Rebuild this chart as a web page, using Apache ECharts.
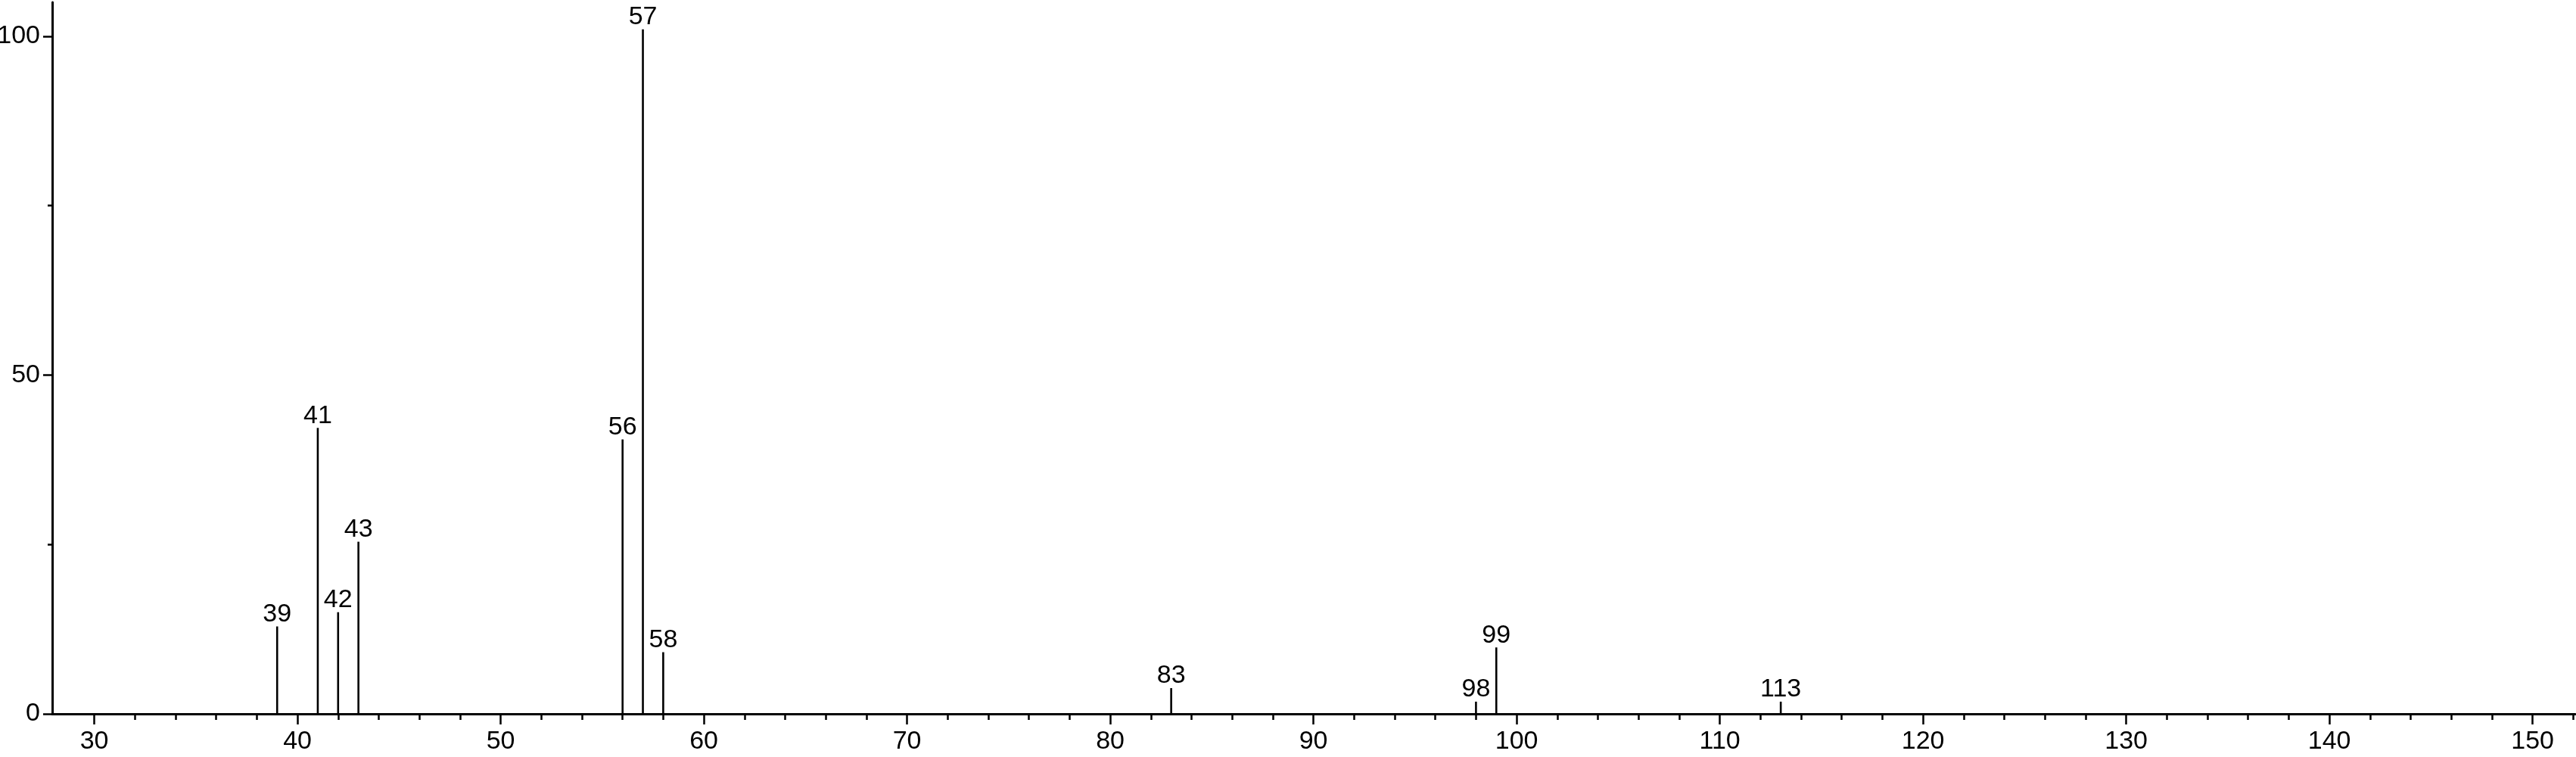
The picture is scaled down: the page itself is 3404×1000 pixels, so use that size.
<!DOCTYPE html>
<html>
<head>
<meta charset="utf-8">
<script src="https://cdn.jsdelivr.net/npm/echarts@6/dist/echarts.min.js"></script>
<style>
html,body{margin:0;padding:0;background:#fff;}
#c{width:3404px;height:1000px;}
</style>
</head>
<body>
<div id="c"></div>
<script>
// m/z values and relative intensities
var mz = [39, 41, 42, 43, 56, 57, 58, 83, 98, 99, 113];
var intensity = [12.9, 42.2, 15.0, 25.4, 40.5, 101.0, 9.1, 3.8, 1.8, 9.8, 1.8];
var xMajorTicks = [30, 40, 50, 60, 70, 80, 90, 100, 110, 120, 130, 140, 150];
var xMinorTicks = [32, 34, 36, 38, 42, 44, 46, 48, 52, 54, 56, 58, 62, 64, 66, 68,
  72, 74, 76, 78, 82, 84, 86, 88, 92, 94, 96, 98, 102, 104, 106, 108, 112, 114, 116, 118,
  122, 124, 126, 128, 132, 134, 136, 138, 142, 144, 146, 148, 152];
var yMajorTicks = [0, 50, 100];
var yMinorTicks = [25, 75];

var font = 'Liberation Sans, Arial, sans-serif';
var peaks = mz.map(function (m, i) { return [m, intensity[i]]; });

var chart = echarts.init(document.getElementById('c'), null, {renderer: 'canvas'});
chart.setOption({
  animation: false,
  backgroundColor: '#fff',
  grid: {left: 69, right: 1, top: 3, bottom: 57, containLabel: false, outerBoundsMode: 'none'},
  xAxis: [{
    type: 'value', min: 27.93, max: 152.1,
    axisLine: {show: true, onZero: false, lineStyle: {color: '#000', width: 3}},
    axisTick: {show: true, customValues: xMajorTicks, length: 14, lineStyle: {color: '#000', width: 2.5}},
    axisLabel: {show: true, customValues: xMajorTicks, margin: 20, color: '#000', fontSize: 34, fontFamily: font},
    splitLine: {show: false}
  }, {
    type: 'value', min: 27.93, max: 152.1, position: 'bottom',
    axisLine: {show: false},
    axisTick: {show: true, customValues: xMinorTicks, length: 8, lineStyle: {color: '#000', width: 2.5}},
    axisLabel: {show: false},
    splitLine: {show: false}
  }],
  yAxis: [{
    type: 'value', min: 0, max: 105,
    axisLine: {show: true, lineStyle: {color: '#000', width: 3}},
    axisTick: {show: true, customValues: yMajorTicks, length: 12, lineStyle: {color: '#000', width: 2.5}},
    axisLabel: {show: true, customValues: yMajorTicks, margin: 16, color: '#000', fontSize: 34, fontFamily: font},
    splitLine: {show: false}
  }, {
    type: 'value', min: 0, max: 105, position: 'left',
    axisLine: {show: false},
    axisTick: {show: true, customValues: yMinorTicks, length: 6, lineStyle: {color: '#000', width: 2.5}},
    axisLabel: {show: false},
    splitLine: {show: false}
  }],
  series: [{
    type: 'bar',
    xAxisIndex: 0, yAxisIndex: 0,
    barWidth: 2.6,
    itemStyle: {color: '#000'},
    label: {
      show: true, position: 'top', distance: -1,
      color: '#000', fontSize: 34, fontFamily: font,
      formatter: function (p) { return String(p.value[0]); }
    },
    data: peaks
  }]
});
</script>
</body>
</html>
